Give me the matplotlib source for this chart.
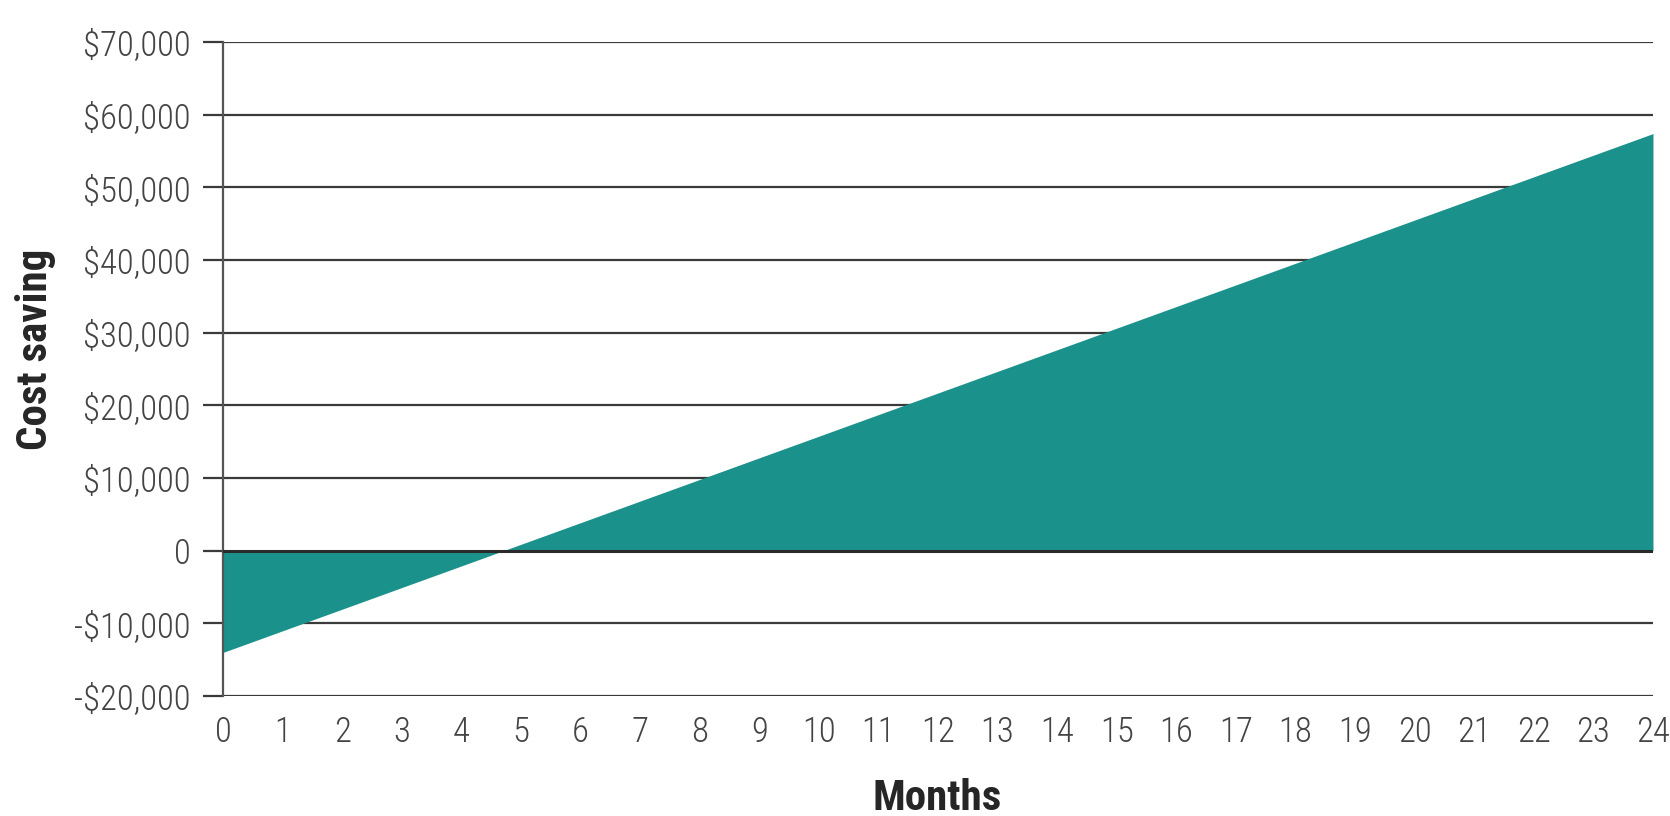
import matplotlib
matplotlib.use('Agg')
import matplotlib.pyplot as plt
from matplotlib import font_manager

# cumulative cost saving, start and end of the 24 month period
mois = [0, 24]
economie = [-14000, 57400]

y_ticks = [-20000, -10000, 0, 10000, 20000, 30000, 40000, 50000, 60000, 70000]
y_labels = ['-$20,000', '-$10,000', '0', '$10,000', '$20,000', '$30,000',
            '$40,000', '$50,000', '$60,000', '$70,000']
x_ticks = list(range(0, 25))

# a condensed sans, whichever one is installed
noms = {f.name for f in font_manager.fontManager.ttflist}
candidats = ['Roboto Condensed', 'Liberation Sans Narrow', 'Archivo Narrow',
             'PT Sans Narrow', 'Fira Sans Condensed', 'IBM Plex Sans Condensed',
             'Encode Sans Condensed', 'Asap Condensed', 'Barlow Semi Condensed',
             'DejaVu Sans']
police = [c for c in candidats if c in noms][0]

fig = plt.figure(figsize=(16.7, 8.16), dpi=100)
ax = fig.add_axes([0.1335, 0.147, 0.8563, 0.8015])

# grid lines under the area
for y in y_ticks:
    if y != 0:
        ax.axhline(y, color='#3a3a3a', lw=1.6, zorder=1)

ax.fill_between(mois, economie, 0, color='#1a918a', lw=0, zorder=2)
ax.axhline(0, color='#2a2a2a', lw=2.2, zorder=3)

ax.set_xlim(0, 24)
ax.set_ylim(-20000, 70000)
ax.set_xticks(x_ticks)
ax.set_xticklabels([str(m) for m in x_ticks], fontsize=25, color='#444444',
                   family=police, fontweight='light')
ax.set_yticks(y_ticks)
ax.set_yticklabels(y_labels, fontsize=25, color='#444444', family=police,
                   fontweight='light')
ax.tick_params(axis='x', length=0, pad=14)
ax.tick_params(axis='y', length=14.5, width=1.6, color='#3a3a3a', pad=9)

for cote in ['top', 'right', 'bottom']:
    ax.spines[cote].set_visible(False)
ax.spines['left'].set_color('#555555')
ax.spines['left'].set_linewidth(1.6)

fig.text(0.561, 0.022, 'Months', fontsize=31, fontweight='bold',
         color='#262626', family=police, ha='center', va='center')
fig.text(0.021, 0.572, 'Cost saving', fontsize=31, fontweight='bold',
         color='#262626', family=police, ha='center', va='center',
         rotation=90)

fig.savefig('out.png', dpi=100, facecolor='white')
